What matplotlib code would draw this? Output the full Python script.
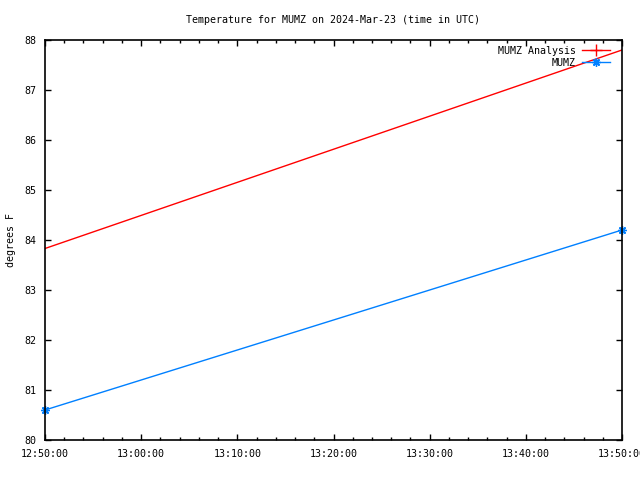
import matplotlib
matplotlib.use("Agg")
import matplotlib.pyplot as plt
import matplotlib.dates as mdates
from matplotlib.lines import Line2D
from datetime import datetime

# data
times = [datetime(2024, 3, 23, 12, 50), datetime(2024, 3, 23, 13, 50)]
analysis_temp = [83.83, 87.8]
obs_temp = [80.6, 84.2]

plt.rcParams['font.family'] = ['DejaVu Sans Mono']
plt.rcParams['font.size'] = 7.2

star = (8, 2, 0)

fig = plt.figure(figsize=(6.4, 4.8), dpi=100)
ax = fig.add_axes([45/640, 40/480, 577/640, 400/480])

ax.plot(times, analysis_temp, color='#ff0000', lw=1)
ax.plot(times, obs_temp, color='#0080ff', lw=1, marker=star, markersize=6, clip_on=False)

ax.set_xlim(times[0], times[-1])
ax.set_ylim(80, 88)
ax.xaxis.set_major_locator(mdates.MinuteLocator(byminute=range(0, 60, 10)))
ax.xaxis.set_minor_locator(mdates.MinuteLocator(byminute=range(0, 60, 2)))
ax.xaxis.set_major_formatter(mdates.DateFormatter('%H:%M:%S'))
ax.tick_params(which='both', direction='in', top=True, right=True, color='black')
ax.tick_params(which='major', length=4, width=1, pad=6.5)
ax.tick_params(which='minor', length=2.2, width=1)
for s in ax.spines.values():
    s.set_linewidth(1.2)

ax.set_title('Temperature for MUMZ on 2024-Mar-23 (time in UTC)', fontsize=7.2, pad=12)
ax.set_ylabel('degrees F', labelpad=6)

handles = [Line2D([], [], color='#ff0000', lw=1, marker='+', markersize=9),
           Line2D([], [], color='#0080ff', lw=1, marker=star, markersize=6)]
ax.legend(handles, ['MUMZ Analysis', 'MUMZ'], loc='upper right', frameon=False,
          markerfirst=False, handlelength=2.8, borderaxespad=0,
          bbox_to_anchor=(0.986, 0.995), labelspacing=0.2, handletextpad=0.6)

fig.savefig('out.png', dpi=100)
